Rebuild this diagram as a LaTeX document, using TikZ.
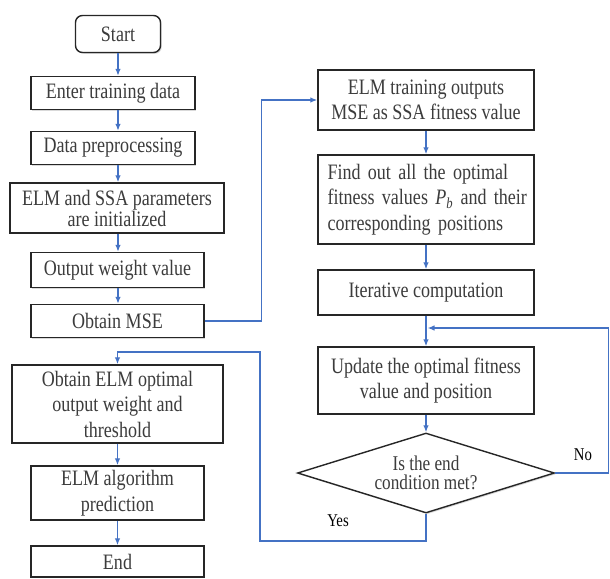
\documentclass[tikz,border=0pt]{standalone}
\usepackage{fontspec}
\setmainfont{Liberation Serif}[FakeStretch=0.82]
\usepackage{tikz}
\usetikzlibrary{shapes.geometric, arrows.meta, positioning, shadows}

\definecolor{flowblue}{RGB}{68,114,196}
\definecolor{boxtext}{RGB}{60,60,60}

\tikzset{
  stepbox/.style={draw=black!85, line width=1.4pt, fill=white, text=boxtext,
    align=center, inner sep=0pt,
    drop shadow={shadow xshift=1.3pt, shadow yshift=-1.3pt, opacity=0.3}},
  termbox/.style={stepbox, rounded corners=7pt},
  testbox/.style={stepbox, diamond, aspect=3.2},
  flow/.style={->, draw=flowblue, line width=1.3pt},
  tag/.style={text=black, font=\fontsize{18}{20}\selectfont}
}

\begin{document}
\begin{tikzpicture}[x=1pt, y=-1pt, font=\fontsize{22}{25.5}\selectfont,
    >={Latex[length=7pt, width=5.5pt]}]
        \useasboundingbox (0,0) rectangle (610,578);

        % Left column
        \node[termbox, minimum width=85pt, minimum height=37pt] (start) at (118,34) {Start};
        \node[stepbox, minimum width=164pt, minimum height=33pt] (enter) at (113,93) {Enter training data};
        \node[stepbox, minimum width=164pt, minimum height=33pt] (prep) at (113,148) {Data preprocessing};
        \node[stepbox, minimum width=214pt, minimum height=50pt, font=\fontsize{22}{19.5}\selectfont] (init) at (117,208) {ELM and SSA parameters\\are initialized};
        \node[stepbox, minimum width=173pt, minimum height=35pt] (outw) at (117.5,270) {Output weight value};
        \node[stepbox, minimum width=173pt, minimum height=33pt] (mse) at (117.5,321) {Obtain MSE};
        \node[stepbox, minimum width=211pt, minimum height=78pt] (optw) at (117.5,404) {Obtain ELM optimal\\output weight and\\threshold};
        \node[stepbox, minimum width=173pt, minimum height=54pt] (pred) at (117.5,493) {ELM algorithm\\prediction};
        \node[stepbox, minimum width=173pt, minimum height=31pt] (end) at (117.5,561.5) {End};

        % Right column
        \node[stepbox, minimum width=216pt, minimum height=60pt] (train) at (426,100) {ELM training outputs\\MSE as SSA fitness value};
        \node[stepbox, minimum width=216pt, minimum height=89pt, text width=197pt, align=left] (find) at (426,199.5)
          {\makebox[197pt][s]{Find out all the optimal}\\
           \makebox[197pt][s]{fitness values \textit{P\textsubscript{b}} and their}\\
           corresponding positions};
        \node[stepbox, minimum width=216pt, minimum height=45pt] (iter) at (426,292.5) {Iterative computation};
        \node[stepbox, minimum width=216pt, minimum height=67pt] (update) at (426,380.5) {Update the optimal fitness\\value and position};
        \node[testbox, minimum width=257pt, minimum height=80pt, font=\fontsize{21}{19}\selectfont] (cond) at (426,473) {Is the end\\condition met?};

        \coordinate (back) at (427.5,328);

        % Labels
        \node[tag] (nolab) at (583,455) {No};
        \node[tag] (yeslab) at (338,521) {Yes};

        % Connectors
        \draw[flow] (start.south) -- (start.south |- enter.north);
        \draw[flow] (start.south |- enter.south) -- (start.south |- prep.north);
        \draw[flow] (start.south |- prep.south) -- (start.south |- init.north);
        \draw[flow] (start.south |- init.south) -- (start.south |- outw.north);
        \draw[flow] (start.south |- outw.south) -- (start.south |- mse.north);
        \draw[flow] (mse.east) -- ++(57,0) |- (train.west);
        \draw[flow] (train) -- (find);
        \draw[flow] (find) -- (iter);
        \draw[flow] (iter) -- (update);
        \draw[flow] (update) -- (cond);
        \draw[flow] (cond.east) -- ++(53,0) |- (back);
        \draw[flow] (cond.south) |- (260,541) |- (optw.north |- 0,352) -- (optw.north);
        \draw[flow] (optw) -- (pred);
        \draw[flow] (pred) -- (end);
    \end{tikzpicture}
\end{document}
